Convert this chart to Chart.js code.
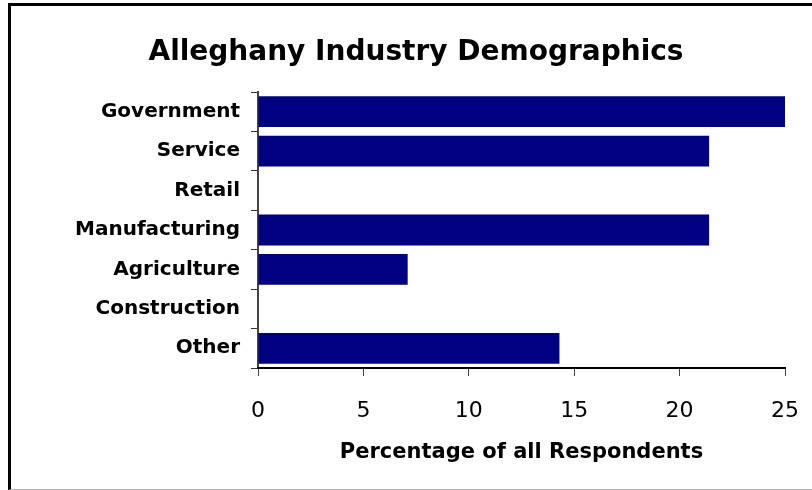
<!DOCTYPE html>
<html>
<head>
<meta charset="utf-8">
<title>Alleghany Industry Demographics</title>
<script src="https://cdn.jsdelivr.net/npm/chart.js@4"></script>
<style>
    html, body {
        margin: 0;
        padding: 0;
        background: #fff;
        overflow: hidden;
    }
    .frame {
        position: absolute;
        left: 8px;
        top: 3px;
        width: 900px;
        height: 483px;
        border-left: 3px solid #000;
        border-top: 3px solid #000;
        border-bottom: 1px solid #b0b0b0;
    }
    #chartIndustry {
        position: absolute;
        left: 0;
        top: 0;
    }
</style>
</head>
<body>
<div class="frame"></div>
<canvas id="chartIndustry" width="812" height="490"></canvas>
<script>
// ============= DATA =============

const industries = ['Government', 'Service', 'Retail', 'Manufacturing', 'Agriculture', 'Construction', 'Other'];
const percentages = [25.0, 21.4, 0, 21.4, 7.1, 0, 14.3];
const xTicks = [0, 5, 10, 15, 20, 25];

const chartTitle = 'Alleghany Industry Demographics';
const xAxisTitle = 'Percentage of all Respondents';

const FONT = "'DejaVu Sans', Verdana, sans-serif";

// ============= PLUGINS =============

// Title drawn over the whole frame, not just the plot area
const frameTitle = {
    id: 'frameTitle',
    afterDraw(chart) {
        const ctx = chart.ctx;
        ctx.save();
        ctx.font = `bold 28px ${FONT}`;
        ctx.fillStyle = '#000';
        ctx.textAlign = 'center';
        ctx.textBaseline = 'alphabetic';
        ctx.fillText(chartTitle, 416, 60);
        ctx.restore();
    }
};

// ============= CHART =============

function initChart() {
    const ctx = document.getElementById('chartIndustry').getContext('2d');
    return new Chart(ctx, {
        type: 'bar',
        data: {
            labels: industries,
            datasets: [{
                data: percentages,
                backgroundColor: '#000080',
                borderWidth: 0,
                barPercentage: 0.78,
                categoryPercentage: 1.0
            }]
        },
        options: {
            indexAxis: 'y',
            responsive: false,
            animation: false,
            layout: {
                padding: { top: 92, right: 27, bottom: 0, left: 0 }
            },
            plugins: {
                legend: { display: false },
                title: { display: false },
                tooltip: { enabled: false }
            },
            scales: {
                y: {
                    afterFit: (scale) => { scale.width = 258; },
                    grid: {
                        drawOnChartArea: false,
                        drawTicks: true,
                        tickLength: 7,
                        color: '#333',
                        lineWidth: 1
                    },
                    border: { color: '#444', width: 2 },
                    ticks: {
                        color: '#000',
                        padding: 11,
                        font: { family: FONT, size: 20, weight: 'bold' }
                    }
                },
                x: {
                    min: 0,
                    max: 25,
                    afterFit: (scale) => {
                        scale.height = 122;
                        // the layout padding already leaves room for the end labels
                        scale.paddingLeft = 0;
                        scale.paddingRight = 0;
                    },
                    afterBuildTicks: (scale) => {
                        scale.ticks = xTicks.map(v => ({ value: v }));
                    },
                    grid: {
                        drawOnChartArea: false,
                        drawTicks: true,
                        tickLength: 8,
                        color: '#444',
                        lineWidth: 1
                    },
                    border: { color: '#000', width: 2 },
                    ticks: {
                        color: '#000',
                        padding: 22,
                        maxRotation: 0,
                        font: { family: FONT, size: 22 }
                    },
                    title: {
                        display: true,
                        text: xAxisTitle,
                        color: '#000',
                        padding: { top: 0, bottom: 25 },
                        font: { family: FONT, size: 21, weight: 'bold' }
                    }
                }
            }
        },
        plugins: [frameTitle]
    });
}

document.addEventListener('DOMContentLoaded', () => {
    initChart();
});
</script>
</body>
</html>
